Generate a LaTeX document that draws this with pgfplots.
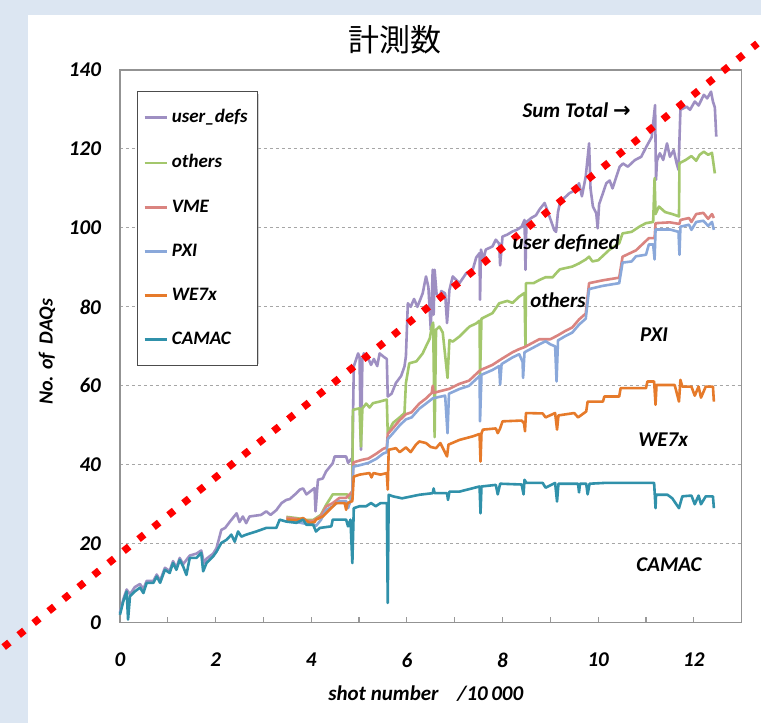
\documentclass[border=0pt]{standalone}
\usepackage{pgfplots}
\pgfplotsset{compat=1.18}
\usepackage{fontspec}
\setmainfont{Carlito}
\newfontfamily\cjk{Noto Sans CJK JP}
\newfontfamily\arrowfont{DejaVu Sans}
\definecolor{bgblue}{RGB}{220,230,242}
\definecolor{cuser}{RGB}{158,143,194}
\definecolor{cothers}{RGB}{163,199,108}
\definecolor{cvme}{RGB}{218,132,128}
\definecolor{cpxi}{RGB}{138,168,218}
\definecolor{cwe}{RGB}{230,122,42}
\definecolor{ccamac}{RGB}{48,145,170}
\newcommand{\lab}{\bfseries\itshape}
\begin{document}
\begin{tikzpicture}
\fill[bgblue] (0,0) rectangle (380.5pt,361.5pt);
\fill[white] (14pt,0) rectangle (380.5pt,354pt);
\node[font=\cjk\fontsize{15.5}{18}\selectfont] at (197.5pt,341.5pt) {計測数};
\node[rotate=90,font=\lab\fontsize{10}{12}\selectfont] at (23.5pt,185.5pt) {No. of\ \ DAQs};
\node[font=\lab\fontsize{10.5}{12}\selectfont] at (213pt,14.5pt) {shot number\hspace{0.9em}/10\,000};
% legend shadow
\fill[black, opacity=0.18] (70pt,179.5pt) rectangle (129.5pt,314.5pt);
\begin{axis}[
  at={(60pt,50pt)}, anchor=south west,
  scale only axis, width=311pt, height=276.5pt,
  xmin=0, xmax=13, ymin=0, ymax=140,
  clip=false,
  xtick={0,2,...,12}, minor xtick={1,3,...,13},
  ytick={0,20,...,140},
  tick pos=left, tick align=inside,
  major tick length=3pt, minor tick length=3pt,
  xtick style={gray!80, line width=0.6pt},
  minor tick style={gray!80, line width=0.6pt},
  ytick style={draw=none},
  ymajorgrids,
  grid style={gray!70, line width=0.5pt, dash pattern=on 1.6pt off 1.4pt},
  axis line style={gray!85, line width=0.8pt},
  /pgf/number format/assume math mode=true,
  xticklabel style={font=\lab\fontsize{10.5}{12}\selectfont, yshift=-11.5pt},
  yticklabel style={font=\lab\fontsize{10.5}{12}\selectfont, xshift=-6pt},
  legend style={at={(0.027,0.962)}, anchor=north west, draw=black!70, line width=0.6pt,
    fill=white,
    font=\lab\fontsize{9.5}{11}\selectfont, row sep=10.4pt, inner xsep=3pt, inner ysep=7pt},
  legend cell align=left,
  legend image code/.code={\draw[#1] (0pt,0pt) -- (11pt,0pt);},
  every axis plot/.append style={line width=1.3pt, line join=round},
]
% user_defs
\addplot[cuser] coordinates {
(0,2.5) (0.07,5.9) (0.14,8.4) (0.21,7.2) (0.31,9) (0.42,9.8) (0.49,8.5) (0.56,10.6) (0.7,10.6) (0.77,12.2) (0.84,10.6) (0.94,13.9) (1.04,13.1) (1.11,15.6) (1.18,13.9) (1.25,16.4) (1.32,14.8) (1.46,17) (1.6,17.5) (1.7,18.3) (1.76,15) (1.81,16.2) (1.95,17.5) (2.02,18.9) (2.12,23.5) (2.2,24) (2.3,25.6) (2.44,27.7) (2.5,25.5) (2.57,26.9) (2.64,25.2) (2.71,26.9) (2.95,27.3) (3.06,28.2) (3.15,27.3) (3.27,28.5) (3.38,30.3) (3.48,31.1) (3.55,31.3) (3.69,32.8) (3.76,33.7) (3.83,34) (3.9,32.5) (4.07,34.1) (4.09,28.2) (4.14,36.2) (4.24,36.5) (4.31,38.3) (4.45,40.4) (4.49,42.1) (4.73,42.1) (4.77,40.5) (4.84,41.5) (4.86,41) (4.89,64.9) (4.98,68.2) (5.01,67.3) (5.04,43.8) (5.07,66.8) (5.1,68.2) (5.18,67.3) (5.25,65.3) (5.31,66.8) (5.38,65) (5.43,68.2) (5.52,67.3) (5.58,66.8) (5.6,57.3) (5.68,58) (5.77,60.7) (5.88,62.5) (5.95,64.9) (5.98,67.5) (6.02,80.9) (6.08,80) (6.15,82) (6.22,80) (6.33,83.4) (6.4,87.7) (6.45,85) (6.5,74.2) (6.54,89.4) (6.56,78) (6.58,89.4) (6.62,83.4) (6.68,82) (6.72,84) (6.8,83.4) (6.84,75.9) (6.89,84.3) (6.96,87.7) (7.1,86) (7.24,88.5) (7.38,89.5) (7.45,92.5) (7.52,93.6) (7.53,81.8) (7.55,94.5) (7.6,92) (7.65,94.5) (7.79,95.3) (7.86,97) (7.93,96) (7.95,90.5) (8.0,97.8) (8.1,98.3) (8.21,99.1) (8.3,99.5) (8.4,100.3) (8.46,102) (8.48,89.4) (8.5,101.5) (8.6,102.5) (8.7,103.2) (8.77,104.6) (8.88,106.3) (8.95,104) (9.08,99.5) (9.12,99) (9.16,104) (9.2,106.3) (9.25,107.1) (9.4,108.8) (9.53,109.6) (9.6,111.3) (9.66,108) (9.74,113) (9.81,121.4) (9.84,110) (9.89,105.4) (9.96,103.7) (9.99,99.9) (10.02,106) (10.1,108.8) (10.17,111.3) (10.24,112) (10.3,110) (10.45,115.5) (10.52,116.3) (10.62,115.5) (10.77,117.2) (10.9,118) (11.01,120.6) (11.12,123) (11.19,131.1) (11.21,112.2) (11.23,117) (11.29,118.9) (11.36,117.2) (11.44,121.4) (11.5,118) (11.58,119.7) (11.64,116.4) (11.68,114.7) (11.72,129.9) (11.85,130.7) (11.92,129.9) (12.02,132) (12.1,131) (12.21,133.7) (12.28,132.8) (12.36,134.5) (12.4,132) (12.44,130.5) (12.47,123.1)
};
\addlegendentry{user\_defs}
% others
\addplot[cothers] coordinates {
(3.48,26.8) (3.69,26.5) (3.9,26) (4.04,26) (4.2,27.3) (4.31,29.8) (4.45,32.5) (4.75,32.5) (4.8,31.5) (4.86,33.5) (4.87,53.9) (5.01,54.3) (5.04,44.6) (5.07,54.3) (5.15,55.5) (5.22,54.5) (5.29,55.6) (5.43,56) (5.58,56.5) (5.6,48) (5.71,50.6) (5.85,52) (5.95,53.1) (5.98,60.7) (6.05,65.7) (6.2,66.2) (6.33,68.2) (6.4,70) (6.48,72) (6.52,75) (6.55,76) (6.58,47) (6.61,74.2) (6.68,75) (6.75,73.5) (6.85,62) (6.89,71.6) (6.96,71.2) (7.1,72.5) (7.31,75) (7.45,75.8) (7.52,76.5) (7.53,62.4) (7.56,77) (7.79,78.4) (7.93,80.9) (8.1,81.5) (8.21,81) (8.35,82.6) (8.46,83.5) (8.48,70) (8.49,86) (8.65,86) (8.77,86.8) (8.9,87.5) (9.05,87.5) (9.12,88.5) (9.2,89.5) (9.46,90.2) (9.6,91) (9.74,92) (9.81,92.7) (9.88,91.5) (10.0,91.8) (10.23,94.4) (10.44,96.1) (10.51,98.6) (10.7,99) (10.86,100.3) (11.0,101.2) (11.15,101.5) (11.18,112.6) (11.2,103.5) (11.27,105.4) (11.4,104) (11.55,103.5) (11.69,102.9) (11.7,116.4) (11.83,117.2) (11.95,118.2) (12.05,117) (12.12,118.5) (12.21,119.3) (12.3,118.5) (12.38,119) (12.44,113.8)
};
\addlegendentry{others}
% VME
\addplot[cvme] coordinates {
(3.48,26.6) (3.69,26.3) (3.9,25.8) (4.04,25.8) (4.2,27) (4.31,29.4) (4.45,30.3) (4.59,31.6) (4.73,31.6) (4.86,33.2) (4.88,40.6) (5.05,41.2) (5.2,41.6) (5.36,42.8) (5.5,44) (5.58,44.4) (5.6,47.8) (5.71,49.3) (5.85,51.3) (5.98,52.8) (6.1,53.3) (6.26,55.5) (6.4,56.8) (6.52,58.2) (6.54,60) (6.56,58.2) (6.68,58.6) (6.88,59.2) (7.1,60.5) (7.3,61.3) (7.52,63.8) (7.56,64.1) (7.79,65.3) (7.98,66.8) (8.21,68.5) (8.35,69.3) (8.46,69.8) (8.77,71.8) (9.0,71.8) (9.16,72.8) (9.3,73.8) (9.46,74.8) (9.6,76.8) (9.74,78.3) (9.81,86) (10.09,86.7) (10.44,87.4) (10.51,92.7) (10.79,94.3) (11.06,97.4) (11.18,97.4) (11.2,101.2) (11.5,101.4) (11.7,101) (11.72,102) (11.9,102.5) (11.95,101.5) (12.05,103.5) (12.2,103.8) (12.3,102.3) (12.38,103.5) (12.42,102.5)
};
\addlegendentry{VME}
% PXI
\addplot[cpxi] coordinates {
(3.48,26) (3.69,25.5) (3.9,25) (4.04,25) (4.1,24.5) (4.2,26) (4.31,28.5) (4.45,29.5) (4.59,30.8) (4.73,30.8) (4.77,29) (4.82,30.8) (4.86,32.5) (4.88,39.5) (5.05,40) (5.2,40.5) (5.36,41.5) (5.5,42.8) (5.58,43.2) (5.6,46.5) (5.71,48) (5.85,50) (5.98,51.5) (6.1,52) (6.26,54.2) (6.4,55.5) (6.54,56.8) (6.68,57.2) (6.8,57.5) (6.85,48) (6.88,58) (7.1,59.2) (7.3,60) (7.52,62.5) (7.53,51) (7.56,62.8) (7.79,64) (7.93,65) (7.95,60.3) (7.98,65.5) (8.21,67.2) (8.35,68) (8.42,66) (8.43,62) (8.46,68.5) (8.77,70.5) (8.9,71.3) (9.0,70.5) (9.1,70) (9.13,61.1) (9.16,71.5) (9.3,72.5) (9.46,73.5) (9.6,75.5) (9.74,77) (9.81,84.5) (10.09,85.3) (10.44,86) (10.51,91.2) (10.7,91.5) (10.79,92.8) (11.0,93.2) (11.06,95.8) (11.15,95.8) (11.18,92) (11.2,99.6) (11.5,99.6) (11.68,99) (11.7,93.2) (11.72,100.3) (11.9,100.8) (11.95,99.5) (12.05,101.5) (12.2,101.8) (12.3,100.5) (12.38,101.5) (12.42,99.5)
};
\addlegendentry{PXI}
% WE7x
\addplot[cwe] coordinates {
(3.48,26.1) (3.69,26) (3.83,26.5) (3.97,25.2) (4.07,25.5) (4.1,26.1) (4.24,26.9) (4.38,28.6) (4.45,29.4) (4.52,30.3) (4.7,30.3) (4.73,28.6) (4.76,30.3) (4.86,30.8) (4.89,37) (5.01,37.5) (5.22,37.9) (5.26,36.8) (5.3,37.9) (5.45,37.5) (5.58,37.9) (5.6,33.7) (5.62,43.8) (5.77,44.2) (5.85,43.2) (5.98,44.4) (6.08,43.2) (6.19,45.1) (6.26,45.9) (6.4,45.5) (6.5,44.5) (6.61,44.2) (6.7,45.5) (6.84,42.1) (6.87,45.1) (7.1,46.3) (7.38,47.2) (7.52,47.8) (7.54,40.8) (7.56,48) (7.59,48.9) (7.86,49.2) (7.9,48) (7.95,49.2) (8.0,51) (8.4,51.2) (8.45,50.5) (8.47,48.5) (8.49,53.1) (8.84,53) (8.9,52) (9.1,53.1) (9.14,48.9) (9.17,52.5) (9.5,53.1) (9.58,52) (9.75,53.5) (9.78,56) (10.1,56) (10.13,57.3) (10.44,57.3) (10.47,59.4) (11.0,59.4) (11.03,61.1) (11.17,61.1) (11.2,55.2) (11.22,60.2) (11.6,60.2) (11.69,56) (11.72,61.5) (11.76,59.8) (11.95,59.8) (12.02,57.5) (12.1,59.8) (12.15,57) (12.25,59.8) (12.4,59.8) (12.42,56)
};
\addlegendentry{WE7x}
% CAMAC
\addplot[ccamac] coordinates {
(0,2) (0.07,5.4) (0.14,7.9) (0.17,0.8) (0.21,6.7) (0.31,7.9) (0.42,8.9) (0.49,7.5) (0.56,10.1) (0.7,10.1) (0.77,11.7) (0.84,10.1) (0.94,13.4) (1.04,12.6) (1.11,15.1) (1.18,13.4) (1.25,15.9) (1.32,14.3) (1.39,12.1) (1.46,16.4) (1.6,16.4) (1.7,17.7) (1.74,13) (1.81,15.1) (1.95,16.8) (2.02,18) (2.12,20.2) (2.23,21) (2.33,22.3) (2.4,20.5) (2.47,23.1) (2.54,21.8) (2.64,22.3) (2.85,23.1) (3.06,24) (3.27,24) (3.34,26.1) (3.48,25.6) (3.69,25.3) (3.83,26.1) (3.9,24.8) (4.04,24.8) (4.1,23.1) (4.18,24) (4.42,24.4) (4.45,26.1) (4.73,26.1) (4.77,24.4) (4.82,26.1) (4.86,15.1) (4.89,29) (5.01,29.5) (5.15,29.5) (5.25,30.3) (5.35,29.5) (5.45,30.3) (5.58,30.3) (5.6,5) (5.62,32.4) (5.71,32) (5.9,31.5) (6.1,32) (6.26,32.4) (6.54,32.8) (6.56,34) (6.58,32.8) (6.84,32.8) (6.86,31.1) (6.89,33.2) (7.1,33.2) (7.52,34.5) (7.54,27.7) (7.56,34.5) (7.86,34.9) (7.9,32.5) (7.95,35.2) (8.4,35) (8.44,32.5) (8.46,36.2) (8.5,35.4) (8.84,35.4) (8.9,34.2) (9.1,35.4) (9.14,30.7) (9.17,35.2) (9.58,35.2) (9.6,33) (9.62,35.2) (9.75,35.2) (9.78,32.5) (9.82,35.2) (10.13,35.4) (11.17,35.4) (11.2,29) (11.21,32.4) (11.45,32.4) (11.55,31.5) (11.69,29) (11.76,32) (11.95,32.2) (12.02,30) (12.1,32.2) (12.15,30) (12.25,32) (12.4,32) (12.42,29)
};
\addlegendentry{CAMAC}
% red dotted trend line
\addplot[red, line width=3.6pt, dash pattern=on 3.6pt off 6pt, forget plot] coordinates {(-2.43,-6.17) (13.33,146.7)};
\node[font=\lab\fontsize{10.5}{12}\selectfont] at (axis cs:9.55,129.9) {Sum Total {\arrowfont\bfseries →}};
\node[font=\lab\fontsize{10.5}{12}\selectfont] at (axis cs:9.33,96.2) {user defined};
\node[font=\lab\fontsize{10.5}{12}\selectfont] at (axis cs:9.16,81.8) {others};
\node[font=\lab\fontsize{10.5}{12}\selectfont] at (axis cs:11.17,72.9) {PXI};
\node[font=\lab\fontsize{10.5}{12}\selectfont] at (axis cs:11.36,46.3) {WE7x};
\node[font=\lab\fontsize{10.5}{12}\selectfont] at (axis cs:11.48,14.7) {CAMAC};
\end{axis}
\end{tikzpicture}
\end{document}
